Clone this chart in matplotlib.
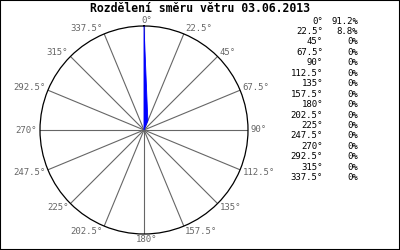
import numpy as np
import matplotlib.pyplot as plt
from matplotlib.patches import Rectangle

# data
title = 'Rozdělení směru větru 03.06.2013'
directions = [0, 22.5, 45, 67.5, 90, 112.5, 135, 157.5,
              180, 202.5, 225, 247.5, 270, 292.5, 315, 337.5]
dir_labels = ['0°', '22.5°', '45°', '67.5°', '90°', '112.5°', '135°', '157.5°',
              '180°', '202.5°', '225°', '247.5°', '270°', '292.5°', '315°', '337.5°']
percent = [91.2, 8.8, 0, 0, 0, 0, 0, 0, 0, 0, 0, 0, 0, 0, 0, 0]
pct_labels = ['91.2%', '8.8%', '0%', '0%', '0%', '0%', '0%', '0%',
              '0%', '0%', '0%', '0%', '0%', '0%', '0%', '0%']

plt.rcParams['font.family'] = 'DejaVu Sans Mono'

W, H = 400, 250
fig = plt.figure(figsize=(W / 100, H / 100), dpi=100)
fig.patch.set_facecolor('white')

# polar plot: centre (144, 130) px, radius 104 px
cx, cy, R = 144, 130, 104
ax = fig.add_axes([(cx - R) / W, (H - cy - R) / H, 2 * R / W, 2 * R / H],
                  projection='polar')
ax.set_theta_zero_location('N')
ax.set_theta_direction(-1)
rmax = max(percent)
ax.set_ylim(0, rmax)
ax.grid(False)
ax.set_xticks([])
ax.set_yticks([])
ax.spines['polar'].set_color('black')
ax.spines['polar'].set_linewidth(0.9)

theta = np.deg2rad(directions)

# spokes
for th in theta:
    ax.plot([th, th], [0, rmax], color='#666666', lw=0.8, zorder=1)

# wind rose polygon
th_closed = np.append(theta, theta[0])
r_closed = np.append(percent, percent[0])
ax.fill(th_closed, r_closed, color='blue', lw=0.6, zorder=3)

# direction labels around the circle
px2pt = 0.72
for th, lab in zip(theta, dir_labels):
    s, c = np.sin(th), np.cos(th)
    if s > 0.01:
        ha = 'left'
    elif s < -0.01:
        ha = 'right'
    else:
        ha = 'center'
    dx = s * 3 + (3 if ha == 'center' else 0)
    dy = c * 6
    ax.annotate(lab, xy=(th, rmax), xytext=(dx * px2pt, dy * px2pt),
                textcoords='offset points', ha=ha, va='center',
                fontsize=6.5, color='#666666', annotation_clip=False)

# title
fig.text(200 / W, 1 - 9 / H, title, ha='center', va='center',
         fontsize=8.3, fontweight='bold')

# table on the right
for i, (lab, pl) in enumerate(zip(dir_labels, pct_labels)):
    y = 1 - (21 + i * 10.45) / H
    fig.text(323 / W, y, lab, ha='right', va='center', fontsize=6.5)
    fig.text(358 / W, y, pl, ha='right', va='center', fontsize=6.5)

# frame
fig.patches.append(Rectangle((0, 0), 1, 1, transform=fig.transFigure,
                             fill=False, edgecolor='black', lw=1.5))

fig.savefig('out.png', dpi=100)
